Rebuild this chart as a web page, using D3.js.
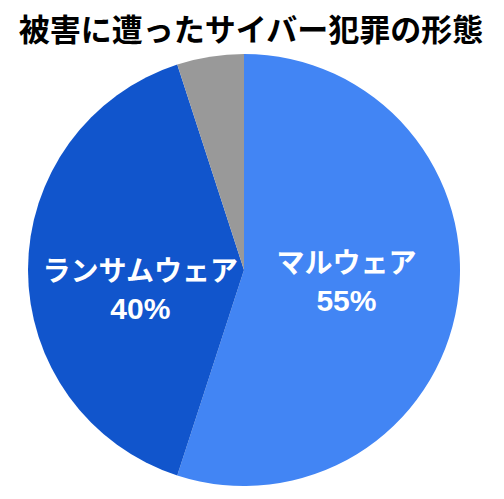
<!DOCTYPE html>
<head>
<meta charset="utf-8">
<style>
  body { margin: 0; background: #fff; }
</style>
</head>
<body>
<svg width="504" height="499"></svg>
<script src="https://d3js.org/d3.v7.min.js"></script>
<script>

var title = "被害に遭ったサイバー犯罪の形態";
var categories = ["マルウェア", "ランサムウェア", "その他"];
var values = [55, 40, 5];
var colors = ["#4285f4", "#1155cc", "#999999"];
var showLabel = [true, true, false];
// vertical shift of each label from the pie centre (layout only)
var labelDy = [3, 11, 0];

var cjk = "'Noto Sans CJK JP', 'Noto Sans', sans-serif",
    latin = "'Liberation Sans', Arial, sans-serif";

var svg = d3.select("svg"),
    cx = 244, cy = 270, r = 216;

svg.append("text")
    .attr("x", 251)
    .attr("y", 41)
    .attr("text-anchor", "middle")
    .style("font-family", cjk)
    .attr("font-size", 31)
    .attr("font-weight", "bold")
    .attr("fill", "#000")
    .text(title);

var data = categories.map(function(c, i) { return {name: c, value: values[i], color: colors[i], show: showLabel[i], dy: labelDy[i]}; });

var pie = d3.pie().sort(null).value(function(d) { return d.value; });
var arc = d3.arc().innerRadius(0).outerRadius(r);
var labelArc = d3.arc().innerRadius(r * 0.48).outerRadius(r * 0.48);

var g = svg.append("g").attr("transform", "translate(" + cx + "," + cy + ")");

g.selectAll("path")
    .data(pie(data))
  .enter().append("path")
    .attr("d", arc)
    .attr("fill", function(d) { return d.data.color; });

var total = d3.sum(values);
var lbl = g.selectAll(".lbl")
    .data(pie(data).filter(function(d) { return d.data.show; }))
  .enter().append("g")
    .attr("class", "lbl")
    .attr("transform", function(d) { return "translate(" + labelArc.centroid(d)[0] + "," + d.data.dy + ")"; });

lbl.append("text")
    .attr("text-anchor", "middle")
    .style("font-family", cjk)
    .attr("font-size", 28)
    .attr("font-weight", "bold")
    .attr("fill", "#fff")
    .text(function(d) { return d.data.name; });

lbl.append("text")
    .attr("y", 38)
    .attr("text-anchor", "middle")
    .style("font-family", latin)
    .attr("font-size", 30)
    .attr("font-weight", "bold")
    .attr("fill", "#fff")
    .text(function(d) { return Math.round(d.data.value / total * 100) + "%"; });

</script>
</body>
